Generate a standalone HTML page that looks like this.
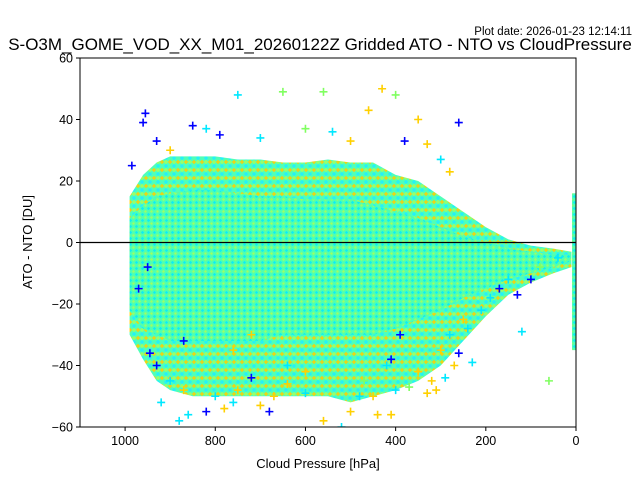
<!DOCTYPE html>
<html><head><meta charset="utf-8">
<style>
body{margin:0;background:#fff;}
svg{display:block;font-family:"Liberation Sans","DejaVu Sans",sans-serif;}
</style></head>
<body>
<svg id="chart" width="640" height="480" viewBox="0 0 640 480">
<defs>
<pattern id="outerPat" width="8" height="8" patternUnits="userSpaceOnUse">
<rect width="8" height="8" fill="#50ffb8"/>
<path d="M0 2H4M2 0V4" stroke="#ffd000" stroke-width="1.3"/>
<path d="M4 6H8M6 4V8" stroke="#20f0ff" stroke-width="1.3"/>
<path d="M4 2H8M6 0V4" stroke="#a0ff60" stroke-width="1.3"/>
</pattern>
<pattern id="innerPat" width="6" height="6" patternUnits="userSpaceOnUse">
<rect width="6" height="6" fill="#50ffb0"/>
<path d="M0 1.5H3M1.5 0V3" stroke="#90ff70" stroke-width="1.2"/>
<path d="M3 4.5H6M4.5 3V6" stroke="#10f0f0" stroke-width="1.2"/>
</pattern>
<clipPath id="plotClip"><rect x="80" y="58" width="496" height="369"/></clipPath>
</defs>
<text x="632" y="35" font-size="11.5" text-anchor="end">Plot date: 2026-01-23 12:14:11</text>
<text x="320" y="50" font-size="17" text-anchor="middle">S-O3M_GOME_VOD_XX_M01_20260122Z Gridded ATO - NTO vs CloudPressure</text>
<g id="marks" clip-path="url(#plotClip)"></g>
<rect x="80" y="58" width="496" height="369" fill="none" stroke="#000" stroke-width="1"/>
<g id="axes"></g>
<text x="318" y="468" font-size="13" text-anchor="middle">Cloud Pressure [hPa]</text>
<text transform="translate(32,242) rotate(-90)" font-size="13" text-anchor="middle">ATO - NTO [DU]</text>
</svg>
<script>
// Dense cloud extents per pressure bin
const binPressure = [990,960,930,900,850,800,750,700,650,600,550,500,450,400,350,300,250,200,150,100,50,10];
const outerLow  = [-30,-38,-45,-48,-50,-50,-50,-50,-50,-50,-50,-52,-50,-48,-45,-40,-32,-24,-17,-13,-10,-8];
const outerHigh = [15,22,26,28,28,28,27,27,26,26,27,26,26,22,20,15,10,5,1,-1,-2,-3];
const innerLow  = [-22,-28,-30,-32,-32,-32,-32,-32,-30,-30,-30,-30,-30,-28,-25,-22,-18,-15,-12,-10,-8,-6];
const innerHigh = [8,12,15,16,17,17,16,15,15,14,14,14,12,10,8,5,2,0,-2,-3,-4,-4];
// Strip at 0 hPa
const stripLow = -35, stripHigh = 16;
// Outlier points
const ptP = [985,970,960,955,945,930,920,900,880,870,860,820,800,780,760,750,720,700,680,670,640,600,560,520,500,470,450,440,420,410,400,390,370,350,330,310,290,270,260,240,230,210,190,170,150,130,120,100,80,60,40,930,900,850,820,790,750,700,650,600,560,540,500,460,430,400,380,350,330,300,280,260,950,870,760,720,640,600,480,410,320,300,280,250];
const ptV = [25,-15,39,42,-36,-40,-52,-45,-58,-48,-56,-55,-50,-54,-52,-48,-44,-53,-55,-50,-46,-49,-58,-60,-55,-45,-50,-56,-40,-56,-48,-30,-47,-42,-49,-48,-44,-40,-36,-28,-39,-22,-18,-15,-12,-17,-29,-12,-8,-45,-5,33,30,38,37,35,48,34,49,37,49,36,33,43,50,48,33,40,32,27,23,39,-8,-32,-35,-30,-40,-42,-50,-38,-45,-35,-30,-25];
const ptC = ['b','b','b','b','b','b','c','c','c','y','c','b','c','y','c','y','b','y','b','y','y','c','y','c','y','g','y','y','c','y','c','b','g','y','y','y','c','y','b','c','c','c','c','b','c','b','c','b','g','g','c','b','y','b','c','b','c','c','g','g','g','c','y','y','y','g','b','y','y','c','y','b','b','b','y','y','c','y','c','b','y','y','c','y'];
const colorMap = {b:'#0000ff',c:'#00e8ff',y:'#ffd000',g:'#80ff60'};
const xTicks = [1000,800,600,400,200,0];
const yTicks = [60,40,20,0,-20,-40,-60];

const X0=80,X1=576,Y0=58,Y1=427;
const xs = p => X1 - p*(X1-X0)/1100;
const ys = v => Y0 + (60-v)*(Y1-Y0)/120;
const NS='http://www.w3.org/2000/svg';
const marks=document.getElementById('marks');
const axes=document.getElementById('axes');

function band(lo,hi,fill){
  let d='M'+xs(binPressure[0])+' '+ys(hi[0]);
  for(let i=1;i<binPressure.length;i++) d+='L'+xs(binPressure[i])+' '+ys(hi[i]);
  for(let i=binPressure.length-1;i>=0;i--) d+='L'+xs(binPressure[i])+' '+ys(lo[i]);
  d+='Z';
  const p=document.createElementNS(NS,'path');
  p.setAttribute('d',d);p.setAttribute('fill',fill);
  
  marks.appendChild(p);
}
band(outerLow,outerHigh,'url(#outerPat)');

band(innerLow,innerHigh,'url(#innerPat)');


const strip=document.createElementNS(NS,'rect');
strip.setAttribute('x',xs(0)-4);strip.setAttribute('width',8);
strip.setAttribute('y',ys(stripHigh));strip.setAttribute('height',ys(stripLow)-ys(stripHigh));
strip.setAttribute('fill','url(#innerPat)');


marks.appendChild(strip);

for(let i=0;i<ptP.length;i++){
  const x=xs(ptP[i]),y=ys(ptV[i]);
  const m=document.createElementNS(NS,'path');
  m.setAttribute('d',`M${x-4} ${y}H${x+4}M${x} ${y-4}V${y+4}`);
  m.setAttribute('stroke',colorMap[ptC[i]]);m.setAttribute('stroke-width','1.6');
  
  
  marks.appendChild(m);
}
const zl=document.createElementNS(NS,'line');
zl.setAttribute('x1',X0);zl.setAttribute('x2',X1);zl.setAttribute('y1',ys(0));zl.setAttribute('y2',ys(0));
zl.setAttribute('stroke','#000');zl.setAttribute('stroke-width','1.2');


marks.appendChild(zl);

xTicks.forEach(t=>{
  const x=xs(t);
  const l=document.createElementNS(NS,'line');
  l.setAttribute('x1',x);l.setAttribute('x2',x);l.setAttribute('y1',Y1);l.setAttribute('y2',Y1+4);l.setAttribute('stroke','#000');
  
  
  axes.appendChild(l);
  const tx=document.createElementNS(NS,'text');
  tx.setAttribute('x',x);tx.setAttribute('y',Y1+18);tx.setAttribute('font-size','12.5');tx.setAttribute('text-anchor','middle');
  tx.textContent=t;
  
  
  axes.appendChild(tx);
});
yTicks.forEach(t=>{
  const y=ys(t);
  const l=document.createElementNS(NS,'line');
  l.setAttribute('x1',X0-4);l.setAttribute('x2',X0);l.setAttribute('y1',y);l.setAttribute('y2',y);l.setAttribute('stroke','#000');
  
  
  axes.appendChild(l);
  const tx=document.createElementNS(NS,'text');
  tx.setAttribute('x',X0-7);tx.setAttribute('y',y+4.5);tx.setAttribute('font-size','12.5');tx.setAttribute('text-anchor','end');
  tx.textContent=t===0?'0':(t<0?'\u2212'+(-t):t);
  
  
  axes.appendChild(tx);
});
</script>
</body></html>
